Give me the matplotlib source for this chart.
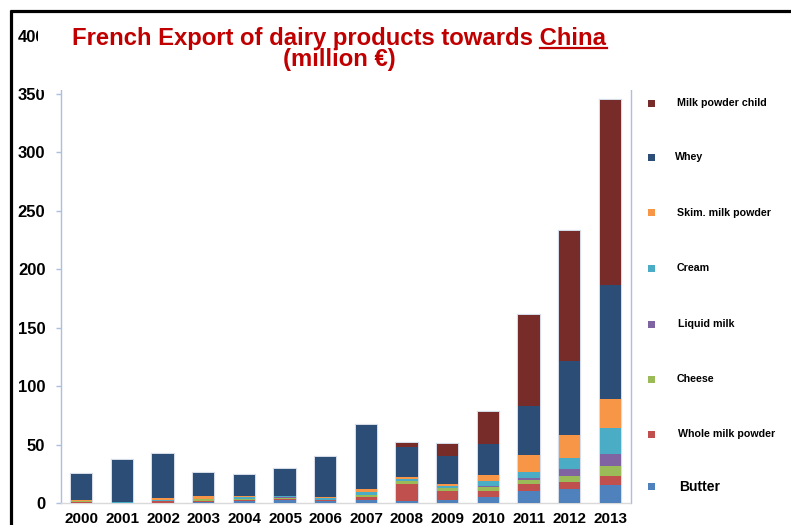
import matplotlib
matplotlib.use("Agg")
import matplotlib.pyplot as plt
from matplotlib.patches import Rectangle
from matplotlib.lines import Line2D
import numpy as np

plt.rcParams['font.family'] = ['Liberation Sans', 'DejaVu Sans']

years = ['2000', '2001', '2002', '2003', '2004', '2005', '2006',
         '2007', '2008', '2009', '2010', '2011', '2012', '2013']

butter            = [0.3, 0.2, 0.3, 0.9, 1.5, 2.8, 1.3, 2.5, 2.0, 2.5, 4.9, 10.5, 12.0, 15.1]
whole_milk_powder = [0.5, 0.0, 1.1, 1.1, 1.0, 0.7, 1.2, 2.3, 14.3, 7.6, 5.4, 5.7, 5.7, 8.0]
cheese            = [1.0, 0.0, 0.0, 1.1, 1.0, 1.0, 0.0, 1.7, 2.5, 2.5, 3.4, 3.7, 5.4, 8.6]
liquid_milk       = [0.0, 0.0, 0.0, 0.0, 0.0, 0.3, 0.0, 0.5, 0.0, 0.5, 0.8, 1.2, 6.0, 10.5]
cream             = [0.0, 1.0, 1.4, 0.3, 1.5, 1.0, 2.2, 2.0, 1.5, 1.7, 4.3, 5.1, 9.7, 22.2]
skim_milk_powder  = [0.5, 0.0, 1.7, 2.3, 0.8, 0.0, 0.3, 3.1, 2.0, 1.5, 5.1, 15.0, 19.2, 24.6]
whey              = [22.2, 35.2, 37.3, 20.3, 18.0, 23.7, 34.0, 54.5, 25.7, 24.0, 26.8, 41.7, 63.3, 97.5]
milk_powder_child = [0.3, 0.5, 0.3, 0.0, 0.0, 0.0, 0.5, 0.0, 3.5, 10.6, 27.1, 77.8, 111.5, 158.0]

series_names = ['Butter', 'Whole milk powder', 'Cheese', 'Liquid milk',
                'Cream', 'Skim. milk powder', 'Whey', 'Milk powder child']
series_values = [butter, whole_milk_powder, cheese, liquid_milk,
                 cream, skim_milk_powder, whey, milk_powder_child]
colors = ['#4F81BD', '#C0504D', '#9BBB59', '#8064A2',
          '#4BACC6', '#F79646', '#2C4D75', '#772C2A']

W, H = 791, 525
fig = plt.figure(figsize=(W / 100, H / 100), dpi=100)

def fx(px):
    return px / W

def fy(py):
    return 1 - py / H

ax_left, ax_right, ax_top, ax_bottom = 61.5, 630.5, 35.6, 503
ax = fig.add_axes([fx(ax_left), fy(ax_bottom), fx(ax_right) - fx(ax_left), fy(ax_top) - fy(ax_bottom)])

x = np.arange(len(years))
width = 0.524
totals = np.sum(np.array(series_values), axis=0)
ax.bar(x, totals, width=width, color='none', edgecolor='#D5DCE8', linewidth=1.6, zorder=2)
bottom = np.zeros(len(years))
for name, vals, c in zip(series_names, series_values, colors):
    ax.bar(x, vals, width=width, bottom=bottom, color=c, edgecolor='none', zorder=3)
    bottom += np.array(vals)

ax.set_xlim(-0.5, len(years) - 0.5)
ax.set_ylim(0, 400)
ax.set_yticks(np.arange(0, 401, 50))
ax.set_xticks(x)
ax.set_xticklabels(years)
ax.tick_params(axis='y', direction='out', length=3.6, width=1, color='#A9C0DE',
               pad=8, labelsize=12)
ax.tick_params(axis='x', length=0, pad=6.5, labelsize=11)
for lab in ax.get_xticklabels() + ax.get_yticklabels():
    lab.set_fontweight('bold')

ax.spines['top'].set_visible(False)
ax.spines['left'].set_color('#A9C0DE')
ax.spines['right'].set_color('#A9C0DE')
ax.spines['bottom'].set_color('#D9D9D9')
for s in ['left', 'right', 'bottom']:
    ax.spines[s].set_linewidth(1)

# white title box covering the top part
fig.patches.append(Rectangle((fx(38), fy(90)), fx(634) - fx(38), fy(12) - fy(90),
                             transform=fig.transFigure, facecolor='white',
                             edgecolor='none', zorder=5))

# frame lines
fig.lines.append(Line2D([fx(10), 1], [fy(10.5), fy(10.5)], transform=fig.transFigure,
                        color='black', linewidth=2.3, solid_capstyle='butt', zorder=10))
fig.lines.append(Line2D([fx(11), fx(11)], [fy(9.5), 0], transform=fig.transFigure,
                        color='black', linewidth=2.3, solid_capstyle='butt', zorder=10))

# title
title_color = '#C00000'
tfs = 17.2
t1 = fig.text(fx(339.5), fy(45), 'French Export of dairy products towards China',
              ha='center', va='baseline', fontsize=tfs, fontweight='bold',
              color=title_color, zorder=6)
fig.text(fx(339.5), fy(66), '(million €)', ha='center', va='baseline',
         fontsize=tfs, fontweight='bold', color=title_color, zorder=6)

fig.canvas.draw()
r = fig.canvas.get_renderer()
bb = t1.get_window_extent(r)
tmp = fig.text(0, 0, 'China', fontsize=tfs, fontweight='bold')
cw = tmp.get_window_extent(r).width
tmp.remove()
uy = fy(47.8)
fig.lines.append(Line2D([(bb.x1 - cw) / W, bb.x1 / W], [uy, uy], transform=fig.transFigure,
                        color=title_color, linewidth=1.6, zorder=6))

# legend (manual, top to bottom)
leg_y = [486.7, 434.3, 379, 324, 268.3, 212.7, 157.3, 103.3]
leg_tx = [679, 677.7, 676.7, 677.7, 676.7, 677, 675, 677.3]
for name, c, yy, tx in zip(series_names, colors, leg_y, leg_tx):
    fig.patches.append(Rectangle((fx(647.5), fy(yy + 3.5)), 7 / W, 7 / H,
                                 transform=fig.transFigure, facecolor=c,
                                 edgecolor='none', zorder=6))
    fs = 10 if name == 'Butter' else 7.7
    fig.text(fx(tx), fy(yy), name, ha='left', va='center', fontsize=fs,
             fontweight='bold', color='black', zorder=6)

fig.savefig('out.png', dpi=100)
